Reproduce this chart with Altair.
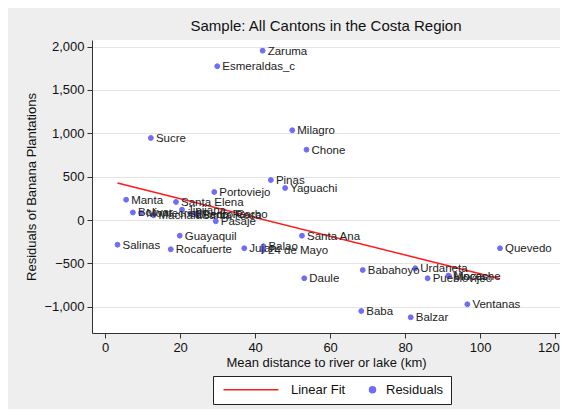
import altair as alt
import pandas as pd

# Canton labels, mean distance to river/lake (km), residuals of banana plantations
names = ["Zaruma", "Esmeraldas_c", "Milagro", "Sucre", "Chone", "Pinas", "Yaguachi",
         "Portoviejo", "Manta", "Santa Elena", "Jipijapa", "Bolivar", "Montecristi",
         "Machala", "Buena Fe", "Santa Rosa", "Pedro Carbo", "Pasaje", "Guayaquil",
         "Salinas", "Rocafuerte", "Jujan", "Balao", "24 de Mayo", "Santa Ana",
         "Quevedo", "Daule", "Babahoyo", "Urdaneta", "Pueblovijeo", "Vinces",
         "Mocache", "Ventanas", "Baba", "Balzar"]
distance = [42.0, 29.9, 49.9, 12.2, 53.7, 44.2, 48.0,
            29.1, 5.6, 18.9, 20.5, 7.4, 9.6,
            12.9, 22.9, 24.4, 24.6, 29.5, 19.9,
            3.3, 17.5, 37.1, 42.2, 42.1, 52.5,
            105.3, 53.1, 68.7, 82.7, 86.0, 91.5,
            91.7, 96.6, 68.3, 81.5]
residual = [1953, 1773, 1035, 946, 811, 461, 369,
            323, 234, 208, 119, 87, 81,
            54, 73, 60, 75, -15, -181,
            -285, -338, -326, -303, -346, -181,
            -326, -672, -577, -557, -672, -642,
            -646, -972, -1050, -1122]

# Linear fit line end points
fit_x = [3.3, 105.3]
fit_y = [427, -677]

series = ["Linear Fit", "Residuals"]
series_colors = ["#ff1a1a", "#6e6ef5"]

pts = pd.DataFrame({"name": names, "x": distance, "y": residual, "s": "Residuals"})
fit = pd.DataFrame({"x": fit_x, "y": fit_y, "s": "Linear Fit"})

FONT = "Liberation Sans"

xs = alt.Scale(domain=[-3.5, 121.3], nice=False, zero=False)
ys = alt.Scale(domain=[-1303, 2076], nice=False, zero=False)

# an invisible left-side title reserves room for the long fit-line symbol
leg = alt.Legend(title="MMMM", titleOrient="left", titleFontSize=13,
                 titleFont=FONT, titlePadding=7, titleColor="transparent",
                 orient="none", legendX=121, legendY=336,
                 direction="horizontal", fillColor="white", strokeColor="#222222",
                 padding=7, labelFontSize=13, labelFont=FONT, labelColor="#111111",
                 symbolSize=36, symbolStrokeWidth=1.5, columnPadding=20, labelOffset=7)

col_scale = alt.Scale(domain=series, range=series_colors)
# legend symbols: a long stroke (extending left) for the fit line, a dot for residuals
shape_scale = alt.Scale(domain=series, range=["M-18,0L0.3,0", "circle"])

xenc = alt.X("x:Q", scale=xs,
             axis=alt.Axis(title="Mean distance to river or lake (km)",
                           values=[0, 20, 40, 60, 80, 100, 120], grid=False,
                           tickSize=5, labelPadding=3, titlePadding=2,
                           labelAlign={"expr": "datum.value >= 120 ? 'right' : 'center'"},
                           labelOffset={"expr": "datum.value >= 120 ? 4 : 0"}))
yenc = alt.Y("y:Q", scale=ys,
             axis=alt.Axis(title="Residuals of Banana Plantations",
                           values=[-1000, -500, 0, 500, 1000, 1500, 2000], format=",d",
                           grid=True, tickSize=5, labelPadding=3, titlePadding=5))

line = alt.Chart(fit).mark_line(strokeWidth=1.5).encode(
    x=xenc, y=yenc,
    stroke=alt.Stroke("s:N", scale=col_scale, legend=leg),
)

points = alt.Chart(pts).mark_point(filled=True, opacity=1, strokeWidth=1, size=24,
                                   shape="circle").encode(
    x="x:Q", y="y:Q",
    fill=alt.Fill("s:N", scale=col_scale, legend=leg),
    stroke=alt.Stroke("s:N", scale=col_scale, legend=leg),
)

# zero-size layer that only carries the legend's symbol shapes
legend_shapes = alt.Chart(pts).mark_point(filled=True, size=0).encode(
    x="x:Q", y="y:Q",
    shape=alt.Shape("s:N", scale=shape_scale, legend=leg),
)

labels = alt.Chart(pts).mark_text(align="left", baseline="middle", dx=5, dy=1,
                                  fontSize=11.5, font=FONT, color="#222222").encode(
    x="x:Q", y="y:Q", text="name:N"
)

chart = alt.layer(line, points, legend_shapes, labels).properties(
    width=468, height=293,
    title=alt.TitleParams("Sample: All Cantons in the Costa Region", fontSize=15,
                          font=FONT, fontWeight="normal", color="#111111",
                          anchor="middle", offset=6),
    autosize=alt.AutoSizeParams(type="none"),
    padding={"left": 84, "top": 32, "right": 0, "bottom": 76},
    background="#eeeeee",
).configure_view(fill="white", stroke=None).configure_axis(
    labelFont=FONT, titleFont=FONT, labelFontSize=13, titleFontSize=13,
    labelColor="#111111", titleColor="#111111", titleFontWeight="normal",
    domainColor="#333333", tickColor="#333333", gridColor="#e4e4e4", gridWidth=1,
)

chart.save("out.html", embed_options={"renderer": "svg", "actions": False})
